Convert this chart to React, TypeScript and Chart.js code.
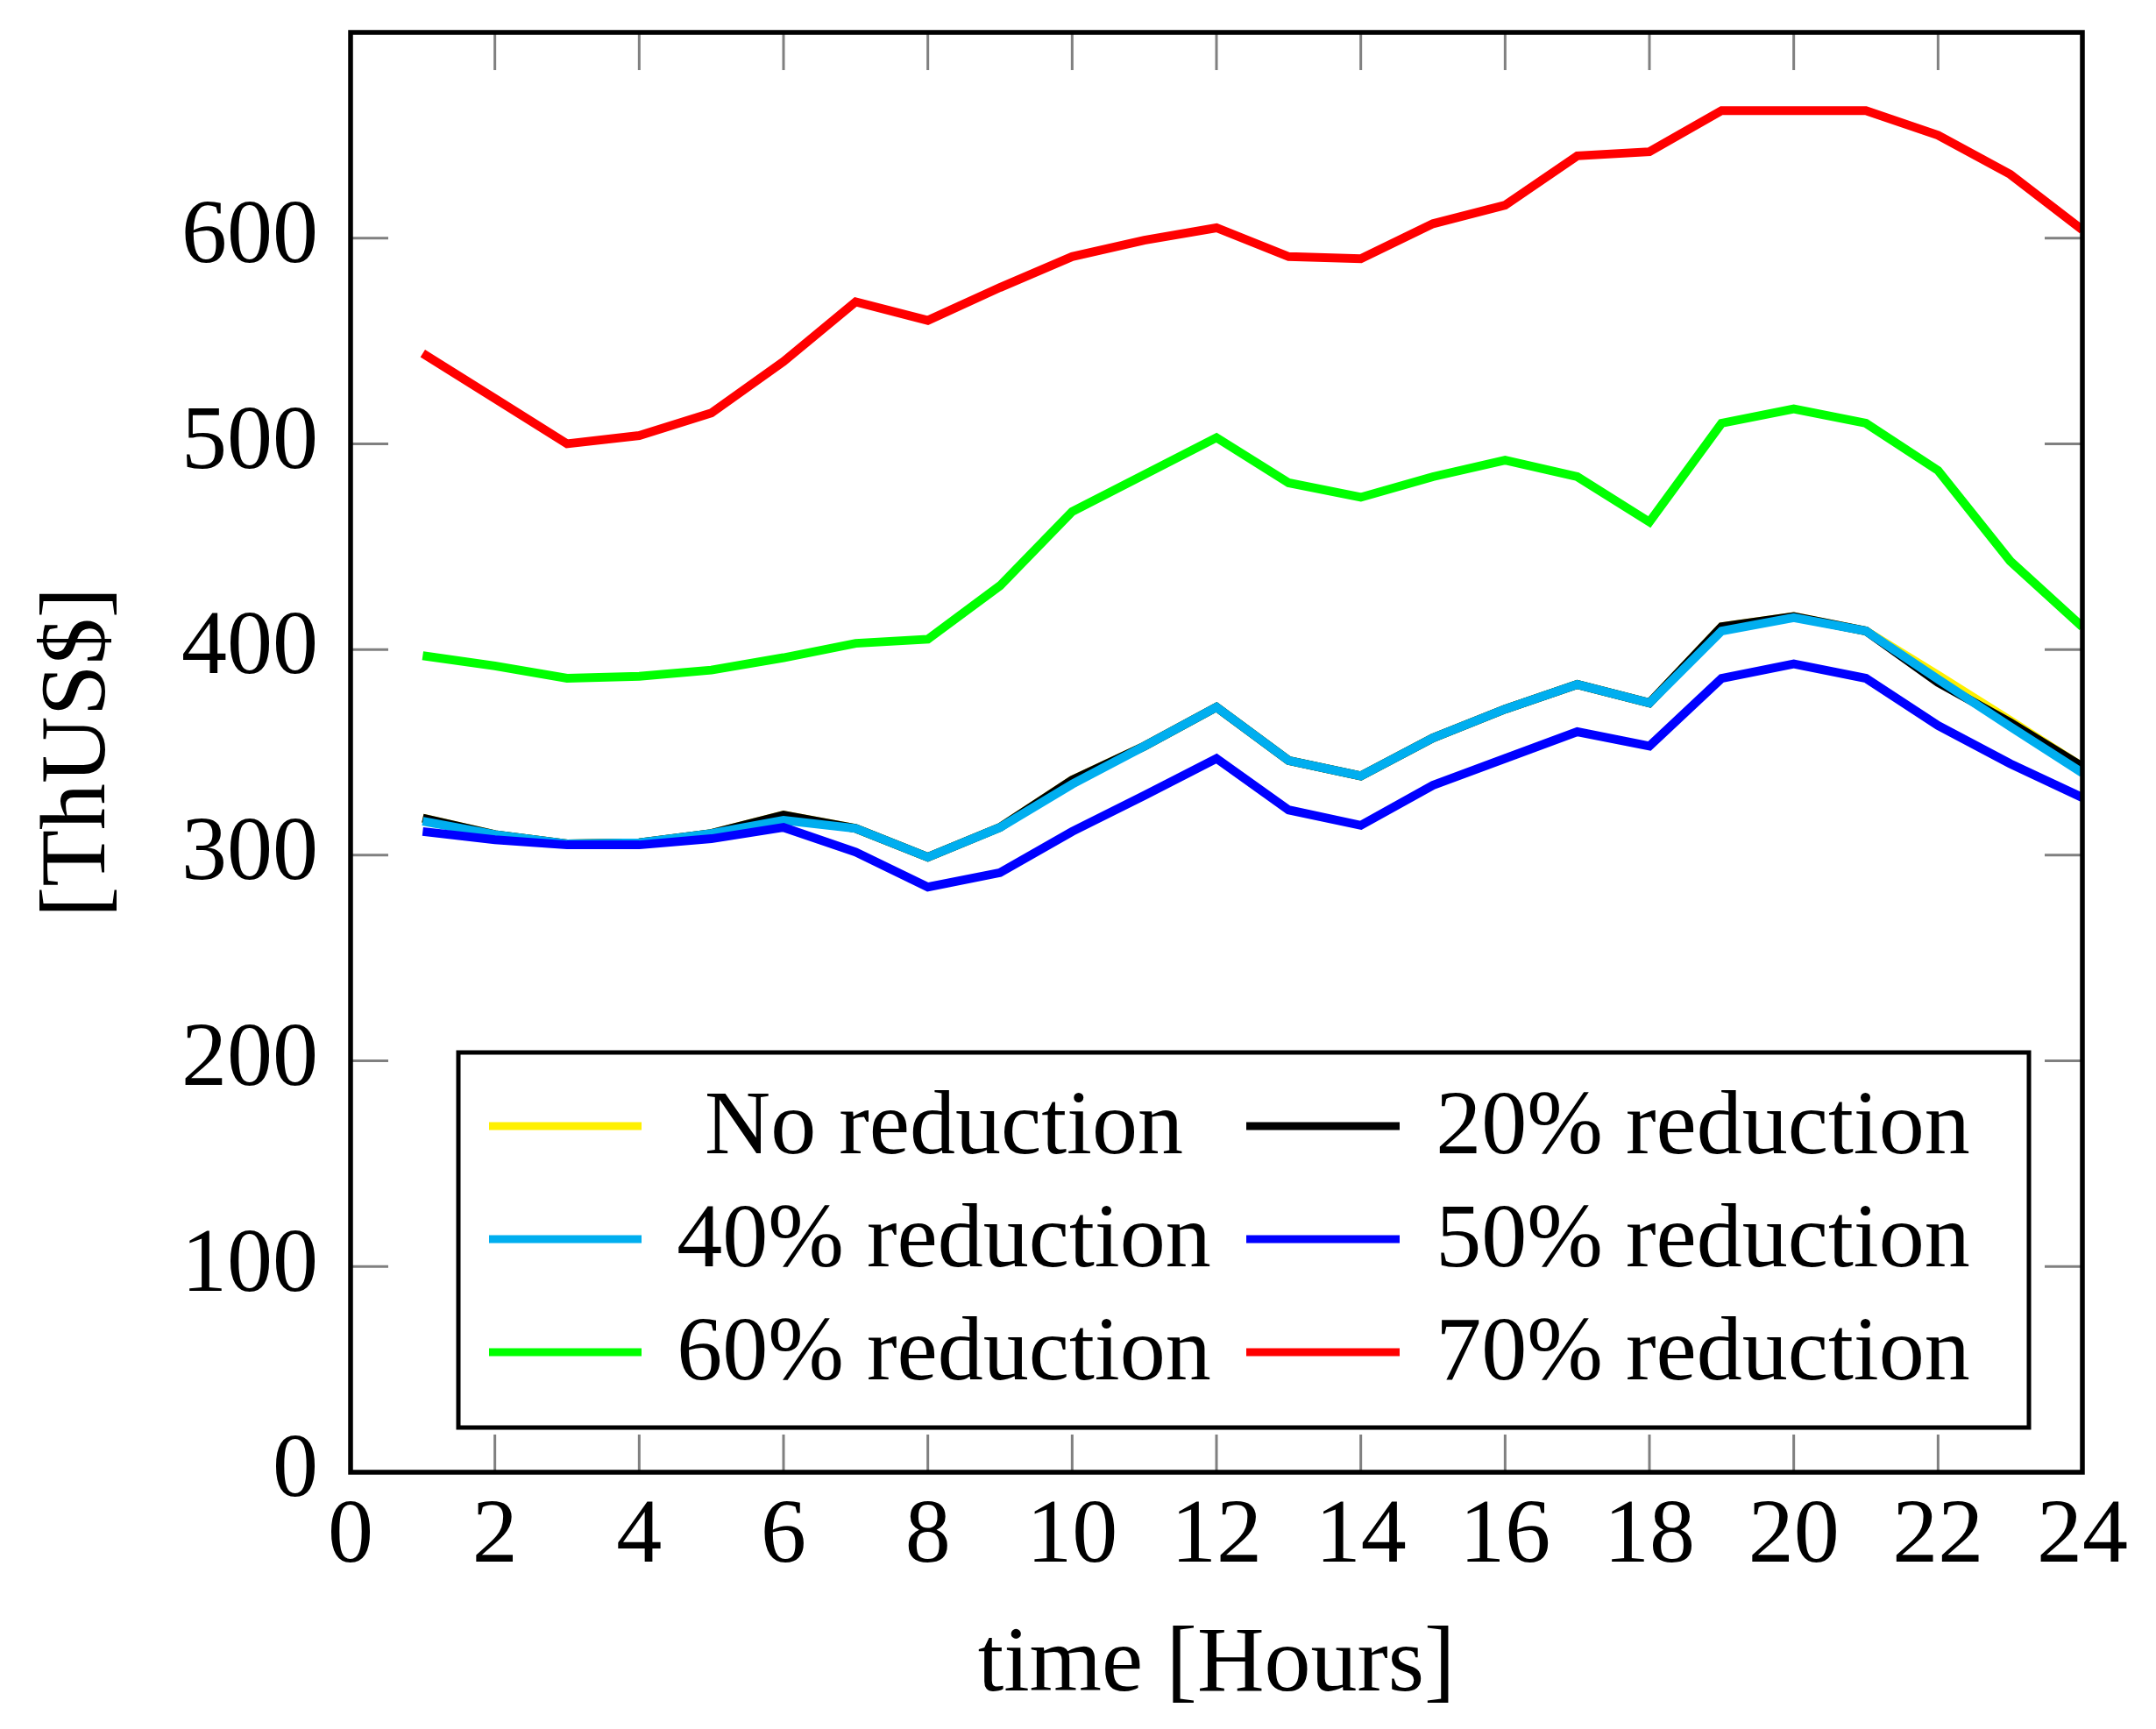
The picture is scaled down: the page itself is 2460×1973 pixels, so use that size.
import React, { useEffect, useRef } from "react";
import { Chart, registerables } from "chart.js";

Chart.register(...registerables);

// ---- data ----
const hours = [1, 2, 3, 4, 5, 6, 7, 8, 9, 10, 11, 12, 13, 14, 15, 16, 17, 18, 19, 20, 21, 22, 23, 24];

const noReduction = [318, 310, 305.5, 306, 310.5, 319.5, 313, 299, 313.5, 336.5, 353, 372, 346, 338.5, 357, 371, 383, 374, 411, 416, 409, 387.5, 365.5, 343];
const reduction20 = [318, 310, 305.5, 306, 310.5, 319.5, 313, 299, 313.5, 336.5, 353, 372, 346, 338.5, 357, 371, 383, 374, 411, 416, 409, 384, 364.5, 343];
const reduction40 = [316.5, 310, 305.5, 306, 310.5, 317, 313, 299, 313.5, 334.5, 353, 372, 346, 338.5, 357, 371, 383, 374, 409, 415.5, 409, 385.5, 362.5, 340];
const reduction50 = [311.5, 307.5, 305, 305, 308, 313.5, 301.5, 284.5, 291.5, 311.5, 329, 347, 322, 314.5, 334, 347, 360, 353, 386, 393, 386, 363, 344.5, 328];
const reduction60 = [397, 392, 386, 387, 390, 396, 403, 405, 431, 467, 485, 503, 481, 474, 484, 492, 484, 462, 510, 517, 510, 487, 443, 411];
const reduction70 = [544, 522, 500, 504, 515, 540, 569, 560, 576, 591, 599, 605, 591, 590, 607, 616, 640, 642, 662, 662, 662, 650, 631, 604];

const seriesLabels = ["No reduction", "20% reduction", "40% reduction", "50% reduction", "60% reduction", "70% reduction"];
const seriesValues = [noReduction, reduction20, reduction40, reduction50, reduction60, reduction70];
const seriesColors = ["#FFF000", "#000000", "#00AEEF", "#0000FF", "#00FF00", "#FF0000"];

const xTitle = "time [Hours]";
const yTitle = "[ThUS$]";
const xMin = 0, xMax = 24, xStep = 2;
const yMin = 0, yMax = 700, yStep = 100;
const hiddenYTickLabels = [700];

// ---- layout / style constants ----
const W = 2460;
const H = 1973;
const FONT = "'Liberation Serif', 'DejaVu Serif', serif";
const TICK_LEN = 43;

const innerPlugin = {
  id: "innerFrame",
  beforeDatasetsDraw(chart: any) {
    const { ctx, chartArea: a, scales } = chart;
    const x = scales.x, y = scales.y;
    ctx.save();
    ctx.strokeStyle = "#808080";
    ctx.lineWidth = 3;
    ctx.beginPath();
    x.ticks.forEach((t: any) => {
      const px = x.getPixelForValue(t.value);
      ctx.moveTo(px, a.bottom);
      ctx.lineTo(px, a.bottom - TICK_LEN);
      ctx.moveTo(px, a.top);
      ctx.lineTo(px, a.top + TICK_LEN);
    });
    y.ticks.forEach((t: any) => {
      const py = y.getPixelForValue(t.value);
      ctx.moveTo(a.left, py);
      ctx.lineTo(a.left + TICK_LEN, py);
      ctx.moveTo(a.right, py);
      ctx.lineTo(a.right - TICK_LEN, py);
    });
    ctx.stroke();
    ctx.restore();
  },
  afterDatasetsDraw(chart: any) {
    const { ctx, chartArea: a } = chart;
    ctx.save();
    ctx.strokeStyle = "#000";
    ctx.lineWidth = 5.5;
    ctx.strokeRect(a.left, a.top, a.right - a.left, a.bottom - a.top);
    ctx.restore();
  },
  afterDraw(chart: any) {
    const { ctx } = chart;
    const box = { l: 523, t: 1201, r: 2315, b: 1629 };
    const rows = [1285, 1414, 1543];
    const cols = [
      { x0: 558, x1: 732, tc: 1077 },
      { x0: 1422, x1: 1597, tc: 1943 },
    ];
    ctx.save();
    ctx.fillStyle = "#fff";
    ctx.fillRect(box.l, box.t, box.r - box.l, box.b - box.t);
    ctx.strokeStyle = "#000";
    ctx.lineWidth = 5;
    ctx.strokeRect(box.l, box.t, box.r - box.l, box.b - box.t);
    ctx.font = `104px ${FONT}`;
    ctx.textAlign = "center";
    ctx.textBaseline = "alphabetic";
    chart.data.datasets.forEach((ds: any, i: number) => {
      const r = rows[Math.floor(i / 2)];
      const c = cols[i % 2];
      ctx.strokeStyle = ds.borderColor;
      ctx.lineWidth = 9;
      ctx.beginPath();
      ctx.moveTo(c.x0, r);
      ctx.lineTo(c.x1, r);
      ctx.stroke();
      ctx.fillStyle = "#000";
      ctx.fillText(ds.label, c.tc, r + 31);
    });
    ctx.restore();
  },
};

export default function App() {
  const ref = useRef<HTMLCanvasElement>(null);

  useEffect(() => {
    if (!ref.current) return;
    const n = seriesLabels.length;
    const chart = new Chart(ref.current, {
      type: "line",
      data: {
        datasets: seriesLabels.map((label, i) => ({
          label,
          data: hours.map((h, j) => ({ x: h, y: seriesValues[i][j] })),
          borderColor: seriesColors[i],
          backgroundColor: seriesColors[i],
          borderWidth: 10,
          pointRadius: 0,
          tension: 0,
          fill: false,
          order: n - i,
        })),
      },
      options: {
        animation: false,
        responsive: false,
        devicePixelRatio: 1,
        layout: { padding: { left: 0, top: 37, right: 84, bottom: 0 } },
        plugins: {
          legend: { display: false },
          tooltip: { enabled: false },
        },
        scales: {
          x: {
            type: "linear",
            min: xMin,
            max: xMax,
            grid: { display: false, drawTicks: false },
            border: { display: false },
            ticks: {
              stepSize: xStep,
              autoSkip: false,
              maxRotation: 0,
              padding: 12,
              color: "#000",
              font: { family: FONT, size: 104 },
            },
            title: {
              display: true,
              text: xTitle,
              color: "#000",
              font: { family: FONT, size: 106 },
              padding: { top: 0, bottom: 8 },
            },
            afterFit(scale: any) {
              scale.height = H - 1680;
              scale.paddingLeft = 0;
              scale.paddingRight = 0;
            },
          },
          y: {
            type: "linear",
            min: yMin,
            max: yMax,
            grid: { display: false, drawTicks: false },
            border: { display: false },
            ticks: {
              stepSize: yStep,
              padding: 37,
              color: "#000",
              font: { family: FONT, size: 104 },
              callback: (v: any) => (hiddenYTickLabels.includes(Number(v)) ? "" : String(v)),
            },
            title: {
              display: true,
              text: yTitle,
              color: "#000",
              font: { family: FONT, size: 106 },
              padding: { top: 28, bottom: 0 },
            },
            afterFit(scale: any) {
              scale.width = 400;
              scale.paddingTop = 0;
              scale.paddingBottom = 0;
            },
          },
        },
      },
      plugins: [innerPlugin],
    } as any);
    return () => chart.destroy();
  }, []);

  return (
    <div style={{ position: "fixed", left: 0, top: 0, width: W, height: H, background: "#fff" }}>
      <canvas ref={ref} width={W} height={H} style={{ display: "block", width: W, height: H }} />
    </div>
  );
}
